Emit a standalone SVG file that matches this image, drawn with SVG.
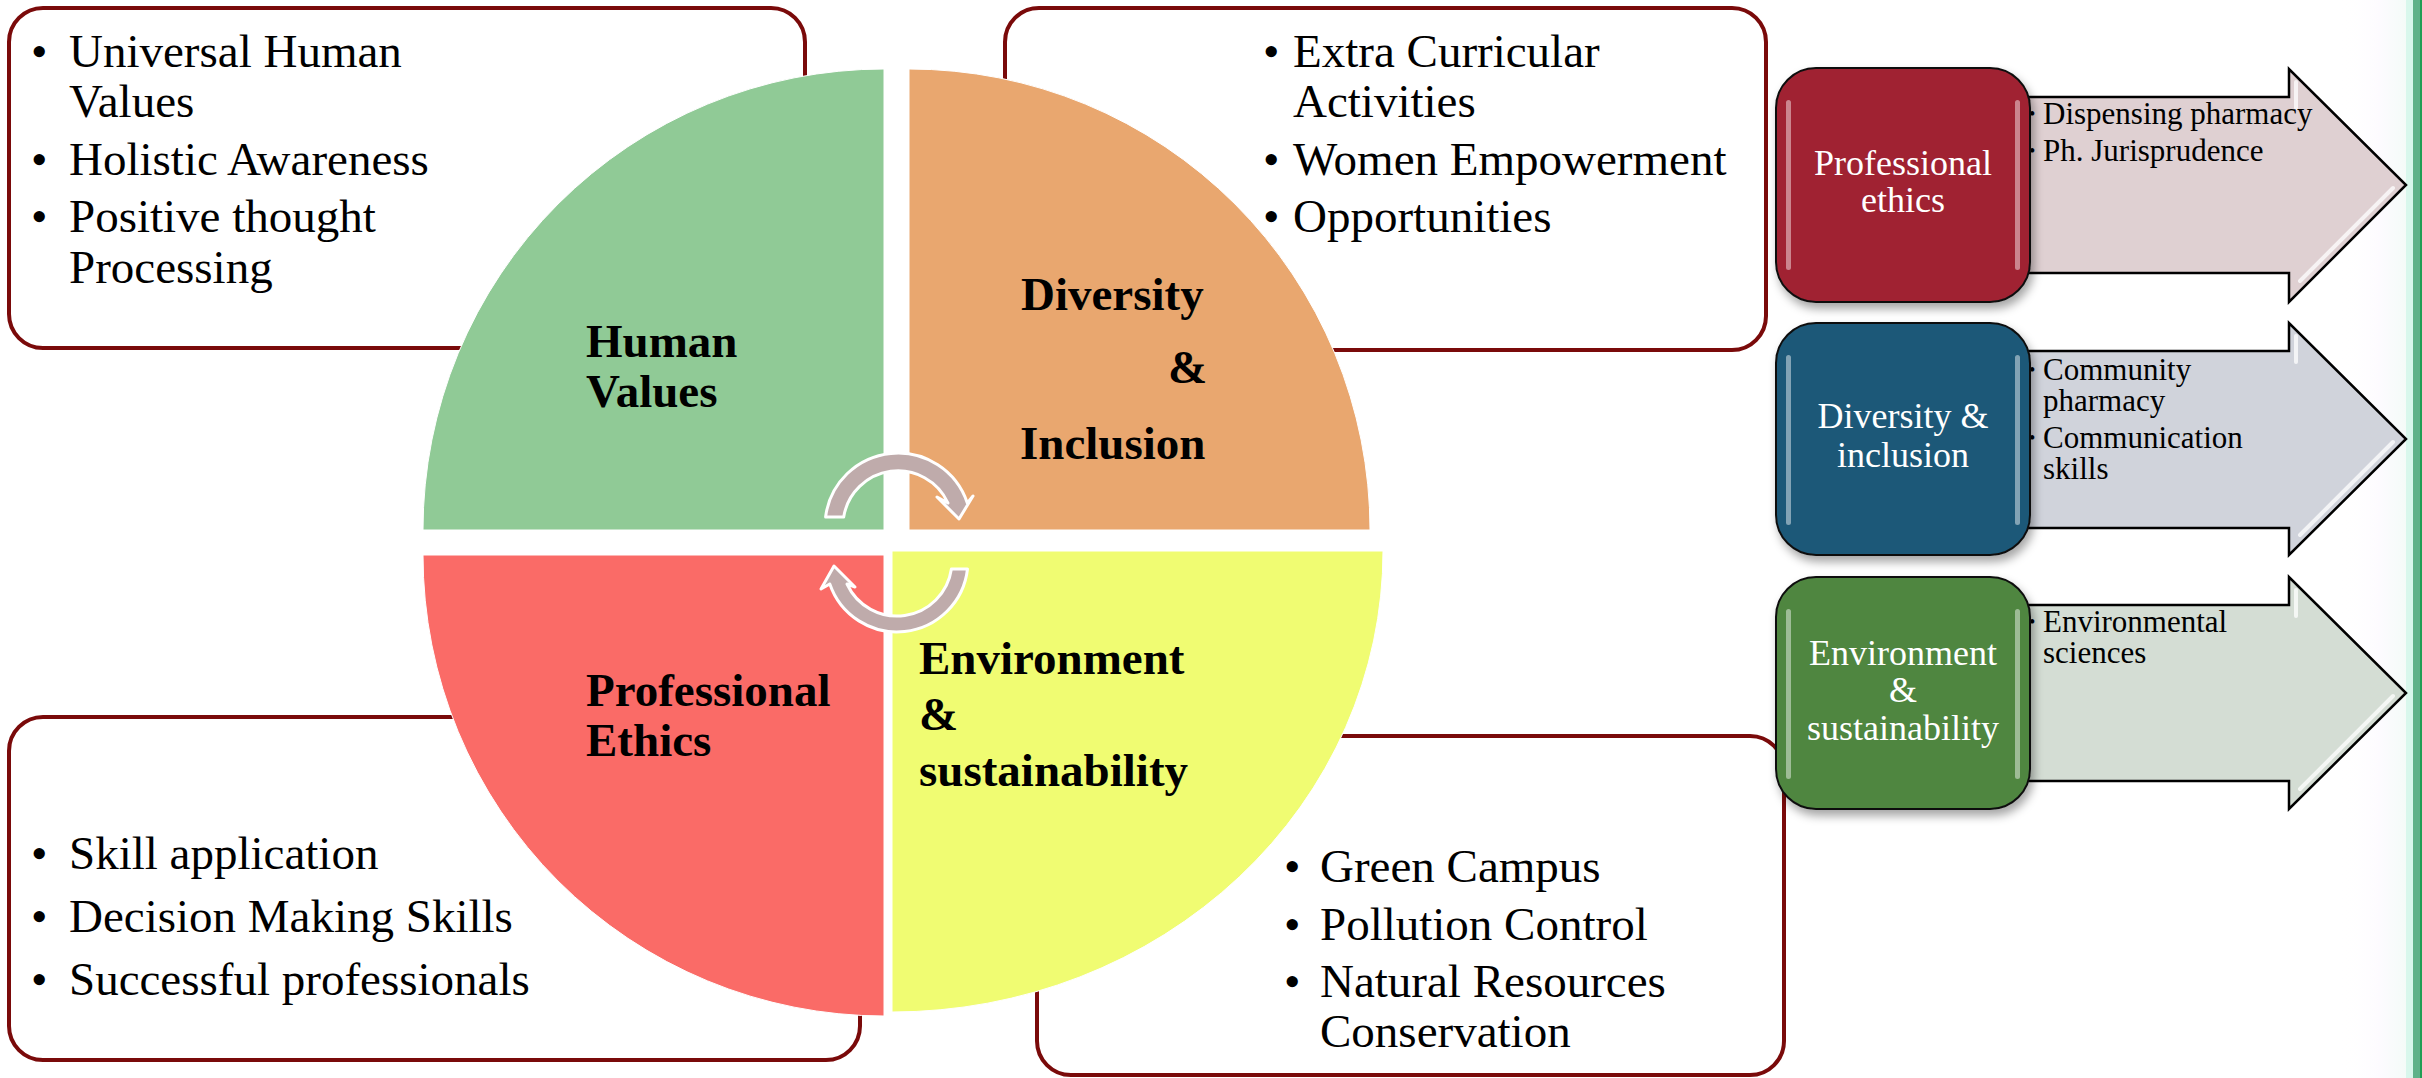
<svg xmlns="http://www.w3.org/2000/svg" width="2422" height="1078" viewBox="0 0 2422 1078">
<style>
.box{fill:#fff;stroke:#7a0a0a;stroke-width:4}
.bt{font-family:"Liberation Serif","Times New Roman",serif;font-size:47px;fill:#000}
.lbl{font-family:"Liberation Serif","Times New Roman",serif;font-size:47px;font-weight:bold;fill:#000}
.sq{font-family:"Liberation Serif","Times New Roman",serif;font-size:36px;fill:#fff;text-anchor:middle}
.at{font-family:"Liberation Serif","Times New Roman",serif;font-size:31px;fill:#000}
.ab{font-family:"Liberation Serif","Times New Roman",serif;font-size:18px;fill:#000}
.arw{stroke:#000;stroke-width:2.5}
.bev{fill:none;stroke:#fff;stroke-width:4;stroke-opacity:0.75;stroke-linecap:round}
.hl{fill:#fff;opacity:0.45}
.cyc{fill:#bfabab;stroke:#fff;stroke-width:3;stroke-linejoin:round}
</style>
<defs>
<filter id="sh" x="-10%" y="-10%" width="125%" height="125%">
<feDropShadow dx="3" dy="6" stdDeviation="5" flood-color="#000" flood-opacity="0.35"/>
</filter>
<linearGradient id="edge" x1="0" x2="1" y1="0" y2="0">
<stop offset="0" stop-color="#fff" stop-opacity="0"/>
<stop offset="0.6" stop-color="#fdfbff" stop-opacity="1"/>
<stop offset="1" stop-color="#f4fbf8" stop-opacity="1"/>
</linearGradient>
</defs>
<rect x="0" y="0" width="2422" height="1078" fill="#fff"/>
<rect x="2340" y="0" width="66" height="1078" fill="url(#edge)"/>
<rect x="2406" y="0" width="7" height="1078" fill="#d8f7ec"/>
<rect x="2413" y="0" width="7" height="1078" fill="#5eb289"/>
<rect x="2420" y="0" width="2" height="1078" fill="#1f9e55"/>

<g id="box-human-values">
<rect class="box" x="9" y="8" width="796" height="340" rx="34"/>
<text class="bt" x="31" y="67">•</text><text class="bt" x="69" y="67">Universal Human</text>
<text class="bt" x="69" y="117">Values</text>
<text class="bt" x="31" y="175">•</text><text class="bt" x="69" y="175">Holistic Awareness</text>
<text class="bt" x="31" y="232">•</text><text class="bt" x="69" y="232">Positive thought</text>
<text class="bt" x="69" y="283">Processing</text>
</g>
<g id="box-diversity">
<rect class="box" x="1005" y="8" width="761" height="342" rx="34"/>
<text class="bt" x="1263" y="67">•</text><text class="bt" x="1293" y="67">Extra Curricular</text>
<text class="bt" x="1293" y="117">Activities</text>
<text class="bt" x="1263" y="175">•</text><text class="bt" x="1293" y="175">Women Empowerment</text>
<text class="bt" x="1263" y="232">•</text><text class="bt" x="1293" y="232">Opportunities</text>
</g>
<g id="box-ethics">
<rect class="box" x="9" y="717" width="851" height="343" rx="34"/>
<text class="bt" x="31" y="869">•</text><text class="bt" x="69" y="869">Skill application</text>
<text class="bt" x="31" y="932">•</text><text class="bt" x="69" y="932">Decision Making Skills</text>
<text class="bt" x="31" y="995">•</text><text class="bt" x="69" y="995">Successful professionals</text>
</g>
<g id="box-environment">
<rect class="box" x="1037" y="736" width="747" height="339" rx="34"/>
<text class="bt" x="1284" y="882">•</text><text class="bt" x="1320" y="882">Green Campus</text>
<text class="bt" x="1284" y="940">•</text><text class="bt" x="1320" y="940">Pollution Control</text>
<text class="bt" x="1284" y="997">•</text><text class="bt" x="1320" y="997">Natural Resources</text>
<text class="bt" x="1320" y="1047">Conservation</text>
</g>

<g id="q-human-values">
<path d="M884,530 L423,530 A461,461 0 0 1 884,69 Z" fill="#90ca96" stroke="#fff" stroke-width="1"/>
<text class="lbl" x="586" y="357">Human</text>
<text class="lbl" x="586" y="407">Values</text>
</g>
<g id="q-diversity">
<path d="M909,530 L909,69 A461,461 0 0 1 1370,530 Z" fill="#e9a76f" stroke="#fff" stroke-width="1"/>
<text class="lbl" x="1021" y="310">Diversity</text>
<text class="lbl" x="1168" y="383">&amp;</text>
<text class="lbl" x="1020" y="459">Inclusion</text>
</g>
<g id="q-ethics">
<path d="M884,555 L884,1016 A461,461 0 0 1 423,555 Z" fill="#fa6b67" stroke="#fff" stroke-width="1"/>
<text class="lbl" x="586" y="706">Professional</text>
<text class="lbl" x="586" y="756">Ethics</text>
</g>
<g id="q-environment">
<path d="M892,551 L1383,551 A491,461 0 0 1 892,1012 Z" fill="#f0fc72" stroke="#fff" stroke-width="1"/>
<text class="lbl" x="919" y="674">Environment</text>
<text class="lbl" x="919" y="730">&amp;</text>
<text class="lbl" x="919" y="786">sustainability</text>
</g>

<g id="connectors">
<path class="cyc" d="M825.6,517 A73,73 0 0 1 967.3,503 L973,496 L959,519 L937,497 L948,503 A55,55 0 0 0 843.7,517 Z"/>
<path class="cyc" d="M967.5,569 A71,71 0 0 1 829.8,584 L821,589 L834,566 L855,587 L847,584 A55,55 0 0 0 951.4,569 Z"/>
</g>

<g id="panel-professional-ethics">
<path class="arw" d="M2000,97 L2289,97 L2289,69 L2406,185 L2289,302 L2289,273 L2000,273 Z" fill="#dfd0d2"/>
<polyline class="bev" points="2393,188 2300,281"/>
<polyline class="bev" points="2296,82 2296,108" stroke-opacity="0.5"/>
<text class="ab" x="2029" y="120">•</text><text class="at" x="2043" y="124">Dispensing pharmacy</text>
<text class="ab" x="2029" y="157">•</text><text class="at" x="2043" y="161">Ph. Jurisprudence</text>
<rect x="1776" y="68" width="254" height="234" rx="40" fill="#a02433" stroke="#111" stroke-width="2" filter="url(#sh)"/>
<rect class="hl" x="1786" y="100" width="5" height="170" rx="2.5"/>
<rect class="hl" x="2015" y="100" width="5" height="170" rx="2.5"/>
<text class="sq" x="1903" y="175">Professional</text>
<text class="sq" x="1903" y="212">ethics</text>
</g>
<g id="panel-diversity-inclusion">
<path class="arw" d="M2000,351 L2289,351 L2289,323 L2406,439 L2289,555 L2289,528 L2000,528 Z" fill="#d0d3db"/>
<polyline class="bev" points="2393,442 2300,535"/>
<polyline class="bev" points="2296,336 2296,362" stroke-opacity="0.5"/>
<text class="ab" x="2029" y="376">•</text><text class="at" x="2043" y="380">Community</text>
<text class="at" x="2043" y="411">pharmacy</text>
<text class="ab" x="2029" y="444">•</text><text class="at" x="2043" y="448">Communication</text>
<text class="at" x="2043" y="479">skills</text>
<rect x="1776" y="323" width="254" height="232" rx="40" fill="#1b5878" stroke="#111" stroke-width="2" filter="url(#sh)"/>
<rect class="hl" x="1786" y="355" width="5" height="170" rx="2.5"/>
<rect class="hl" x="2015" y="355" width="5" height="170" rx="2.5"/>
<text class="sq" x="1903" y="428">Diversity &amp;</text>
<text class="sq" x="1903" y="467">inclusion</text>
</g>
<g id="panel-environment-sustainability">
<path class="arw" d="M2000,605 L2289,605 L2289,577 L2406,693 L2289,809 L2289,781 L2000,781 Z" fill="#d4ddd4"/>
<polyline class="bev" points="2393,696 2300,789"/>
<polyline class="bev" points="2296,590 2296,616" stroke-opacity="0.5"/>
<text class="ab" x="2029" y="628">•</text><text class="at" x="2043" y="632">Environmental</text>
<text class="at" x="2043" y="663">sciences</text>
<rect x="1776" y="577" width="254" height="232" rx="40" fill="#4f8641" stroke="#111" stroke-width="2" filter="url(#sh)"/>
<rect class="hl" x="1786" y="609" width="5" height="170" rx="2.5"/>
<rect class="hl" x="2015" y="609" width="5" height="170" rx="2.5"/>
<text class="sq" x="1903" y="665">Environment</text>
<text class="sq" x="1903" y="702">&amp;</text>
<text class="sq" x="1903" y="740">sustainability</text>
</g>
</svg>
